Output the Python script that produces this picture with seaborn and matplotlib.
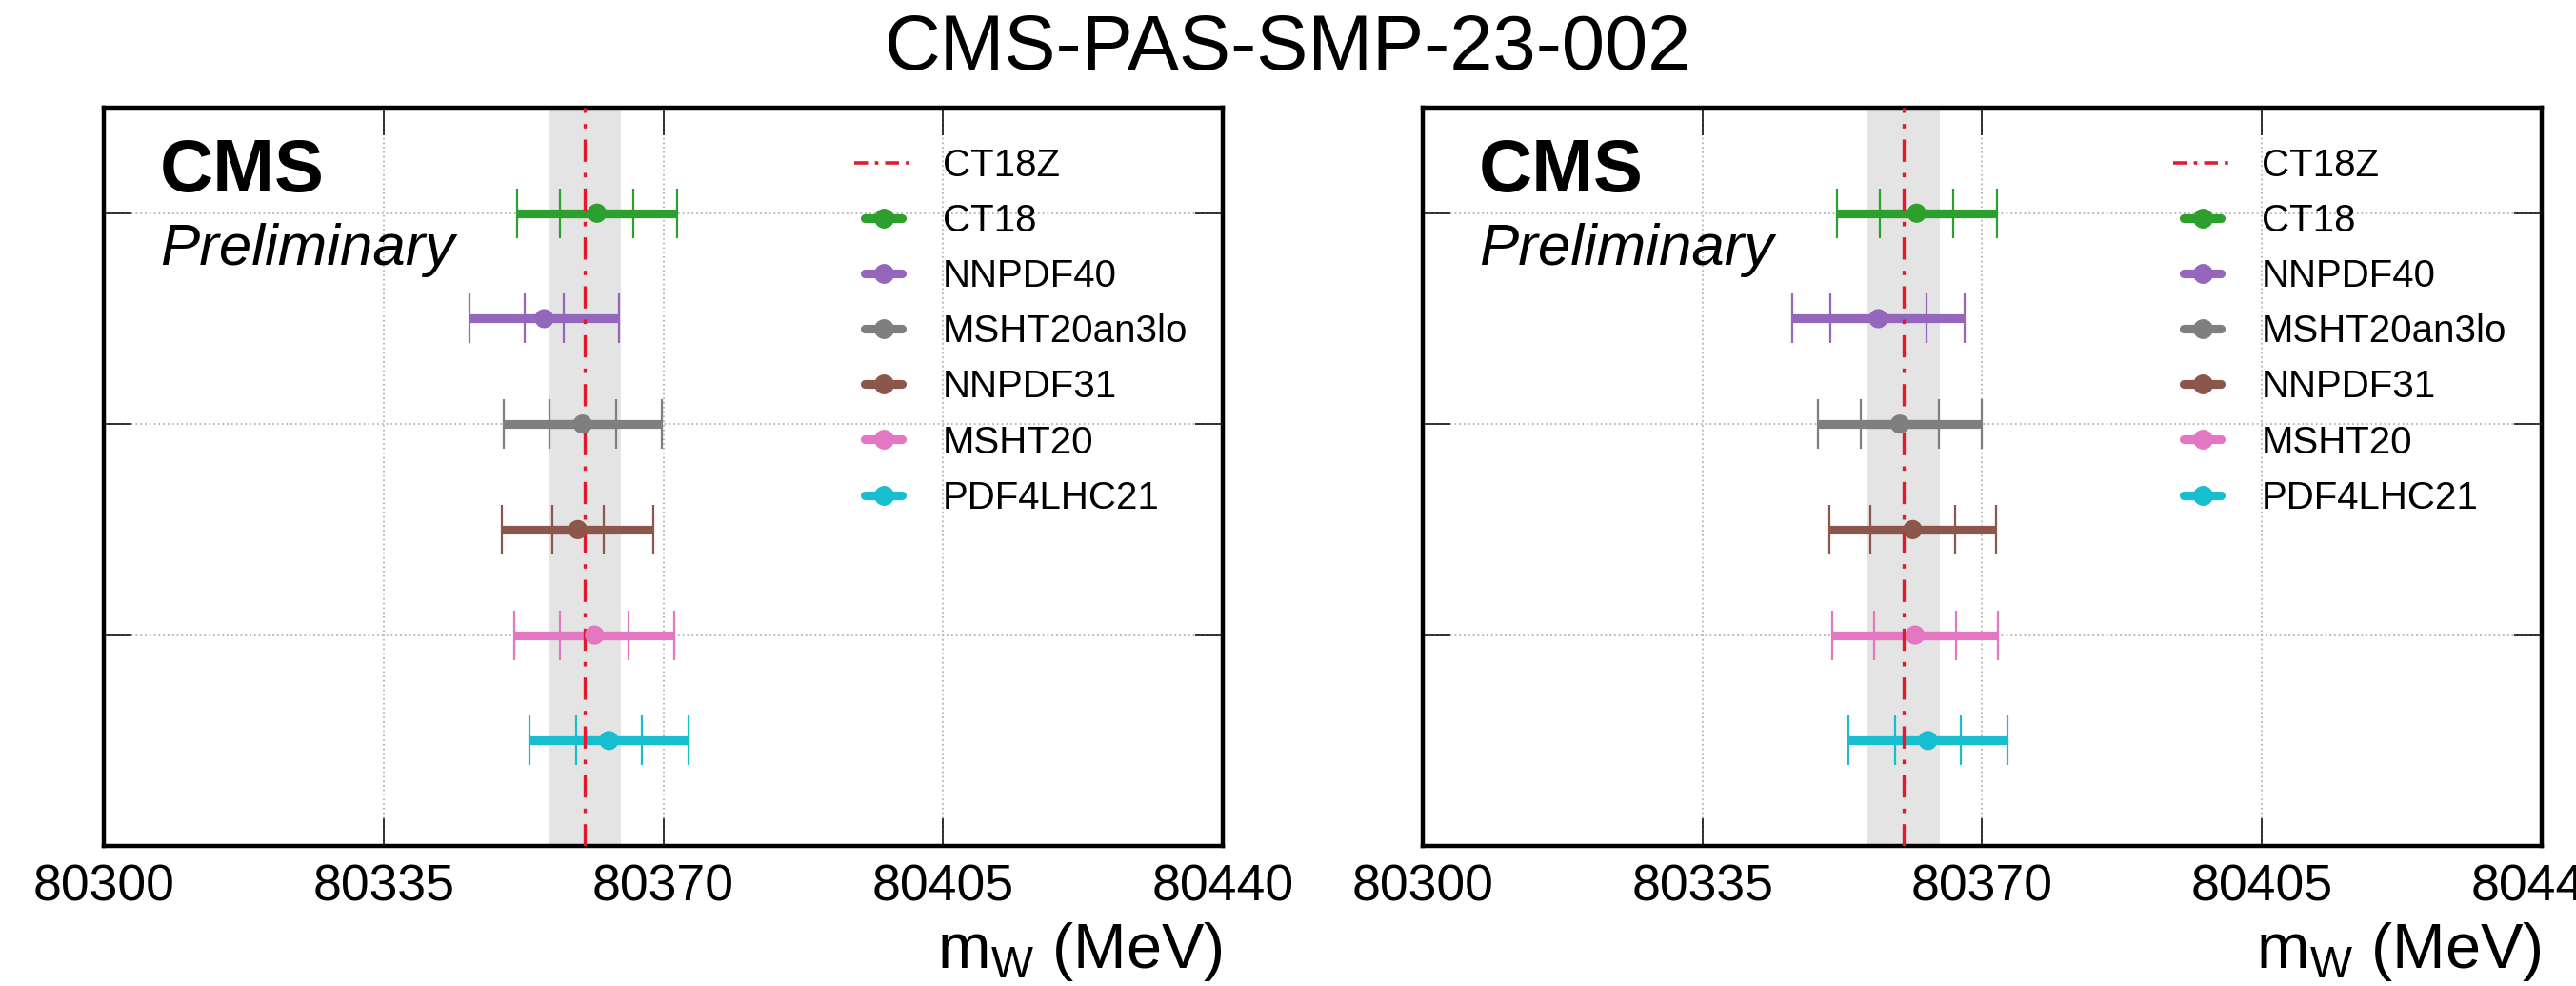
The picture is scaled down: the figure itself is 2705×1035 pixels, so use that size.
import numpy as np
import pandas as pd
import matplotlib
matplotlib.use("Agg")
import matplotlib.pyplot as plt
from matplotlib.lines import Line2D
from matplotlib.legend_handler import HandlerLine2D
import seaborn as sns

# ---- data -------------------------------------------------------------
pdf_sets = ["CT18", "NNPDF40", "MSHT20an3lo", "NNPDF31", "MSHT20", "PDF4LHC21"]
pdf_colors = ["#2ca02c", "#9467bd", "#7f7f7f", "#8c564b", "#e377c2", "#17becf"]

# left panel: central value, inner (PDF) and total uncertainty in MeV
left_central = [80361.7, 80355.1, 80359.9, 80359.3, 80361.4, 80363.2]
left_inner = [4.6, 2.4, 4.2, 3.2, 4.3, 4.1]
left_total = [10.0, 9.3, 9.9, 9.5, 10.0, 9.9]

# right panel
right_central = [80361.8, 80357.0, 80359.7, 80361.3, 80361.6, 80363.2]
right_inner = [4.6, 6.0, 4.9, 5.3, 5.1, 4.1]
right_total = [10.0, 10.8, 10.2, 10.4, 10.4, 9.9]

# nominal fit
ref_name = "CT18Z"
ref_central = 80360.2
ref_unc = 4.5

x_ticks = [80300, 80335, 80370, 80405, 80440]
title = "CMS-PAS-SMP-23-002"
x_label = r"m$_\mathrm{W}$ (MeV)"

# ---- style ------------------------------------------------------------
sns.set_theme(style="white")
plt.rcParams["font.family"] = ["Liberation Sans", "DejaVu Sans"]
plt.rcParams["mathtext.fontset"] = "custom"
plt.rcParams["mathtext.rm"] = "Liberation Sans"
plt.rcParams["mathtext.it"] = "Liberation Sans:italic"
for key in ("text.color", "axes.labelcolor", "xtick.color", "ytick.color",
            "axes.edgecolor"):
    plt.rcParams[key] = "black"

red = "#e31a2c"
band_color = "#e4e4e4"
grid_color = "#b5b5b5"


class ShortLineHandler(HandlerLine2D):
    """Line2D legend handler drawing a shorter line segment."""

    def __init__(self, frac=0.64, **kw):
        super().__init__(**kw)
        self.frac = frac

    def create_artists(self, legend, orig_handle, xdescent, ydescent,
                       width, height, fontsize, trans):
        w = width * self.frac
        xd = xdescent - (width - w) / 2
        return super().create_artists(legend, orig_handle, xd, ydescent,
                                      w, height, fontsize, trans)


fig = plt.figure(figsize=(27.05, 10.35), dpi=100)
ax_l = fig.add_axes([0.0403, 0.1420, 0.4344, 0.7488])
ax_r = fig.add_axes([0.5523, 0.1420, 0.4344, 0.7488])

n = len(pdf_sets)
ypos = np.arange(n, 0, -1)


def draw_panel(ax, central, inner, total):
    df = pd.DataFrame({"pdf": pdf_sets, "mw": central, "y": ypos})
    ax.axvspan(ref_central - ref_unc, ref_central + ref_unc,
               color=band_color, lw=0, zorder=0.5)
    ax.grid(True, which="major", axis="both", ls=":", lw=1.3,
            color=grid_color, zorder=0.6)
    for i in range(n):
        for err in (total[i], inner[i]):
            ax.errorbar(central[i], ypos[i], xerr=err, fmt="none",
                        ecolor=pdf_colors[i], elinewidth=6.6, capsize=18.5,
                        capthick=1.6, zorder=2)
    ax.axvline(ref_central, color=red, lw=2.4, dashes=(7, 3.5, 1.4, 3.5),
               zorder=3)
    sns.scatterplot(data=df, x="mw", y="y", hue="pdf", palette=pdf_colors,
                    hue_order=pdf_sets, s=14.5 ** 2, linewidth=0,
                    legend=False, ax=ax, zorder=4)

    ax.set_xlim(x_ticks[0], x_ticks[-1])
    ax.set_ylim(0, n + 1)
    ax.set_xticks(x_ticks)
    ax.set_xticklabels([str(t) for t in x_ticks])
    ax.set_yticks([2, 4, 6])
    ax.set_yticklabels([])
    ax.tick_params(axis="both", which="major", direction="in", length=21,
                   width=1.1, color="black", top=True, right=True,
                   bottom=True, left=True)
    ax.tick_params(axis="x", labelsize=38.5, pad=13)
    ax.set_ylabel("")
    ax.set_xlabel(x_label, loc="right", fontsize=48, labelpad=7)
    for sp in ax.spines.values():
        sp.set_linewidth(3.2)
        sp.set_color("black")
        sp.set_visible(True)

    ax.text(0.05, 0.886, "CMS", transform=ax.transAxes, fontsize=56,
            fontweight="bold", va="baseline", ha="left")
    ax.text(0.05, 0.787, "Preliminary", transform=ax.transAxes,
            fontsize=44.5, fontstyle="italic", va="baseline", ha="left")

    handles = [Line2D([], [], color=red, lw=2.6, dashes=(4, 2, 1, 2))]
    handles += [Line2D([], [], color=c, lw=6.6, marker="o", ms=14)
                for c in pdf_colors]
    labels = [ref_name] + pdf_sets
    hmap = {h: ShortLineHandler() for h in handles[1:]}
    ax.legend(handles, labels, loc="upper left",
              bbox_to_anchor=(0.671, 0.946), frameon=False, fontsize=29,
              handlelength=1.5, handletextpad=0.8, labelspacing=0.5,
              borderpad=0.0, borderaxespad=0.0, handler_map=hmap)


draw_panel(ax_l, left_central, left_inner, left_total)
draw_panel(ax_r, right_central, right_inner, right_total)

fig.suptitle(title, fontsize=58.5, y=1 - 52 / 1035, va="center")

fig.savefig("out.png", dpi=100)
